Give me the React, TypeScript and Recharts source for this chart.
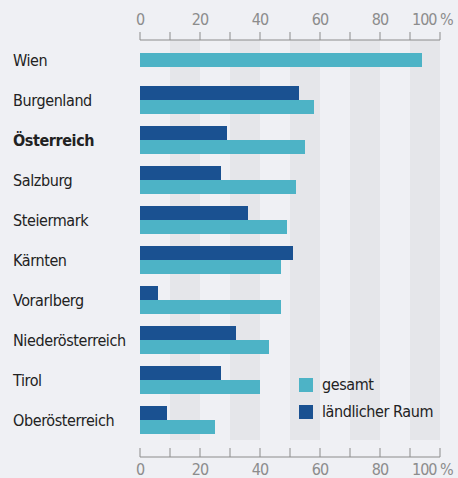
import { BarChart, Bar, XAxis, YAxis, ReferenceArea, Rectangle } from 'recharts'

// ── Data ──────────────────────────────────────────────────────────────────────

const REGIONS = [
  'Wien', 'Burgenland', 'Österreich', 'Salzburg', 'Steiermark',
  'Kärnten', 'Vorarlberg', 'Niederösterreich', 'Tirol', 'Oberösterreich',
]
const GESAMT = [94, 58, 55, 52, 49, 47, 47, 43, 40, 25]
const LAENDLICH: (number | null)[] = [null, 53, 29, 27, 36, 51, 6, 32, 27, 9]

const TICKS = [0, 10, 20, 30, 40, 50, 60, 70, 80, 90, 100]
const STRIPES: [number, number][] = [[10, 20], [30, 40], [50, 60], [70, 80], [90, 100]]

const data = REGIONS.map((name, i) => ({ name, gesamt: GESAMT[i], laendlich: LAENDLICH[i] }))

// ── Style ─────────────────────────────────────────────────────────────────────

const BG = '#eff0f4'
const STRIPE = '#e5e6ea'
const LIGHT = '#4db3c6'
const DARK = '#1a5191'
const AXIS = '#8c8c8c'
const FONT = '"DejaVu Sans Condensed", "DejaVu Sans", sans-serif'

function tickText(v: number) {
  if (v % 20 !== 0) return ''
  return v === 100 ? '100 %' : String(v)
}

function ValueTick({ x, y, payload, top }: any) {
  const v = payload.value as number
  const label = tickText(v)
  if (!label) return null
  return (
    <text
      x={v === 100 ? x - 28 : x}
      y={top ? y : y + 16}
      textAnchor={v === 100 ? 'start' : 'middle'}
      fontFamily={FONT}
      fontSize={16}
      letterSpacing={-1}
      fill={AXIS}
    >
      {label}
    </text>
  )
}

function RegionTick({ y, payload }: any) {
  return (
    <text
      x={13}
      y={y + 6}
      fontFamily={FONT}
      fontSize={16}
      letterSpacing={-0.4}
      fontWeight={payload.value === 'Österreich' ? 700 : 400}
      fill="#222"
    >
      {payload.value}
    </text>
  )
}

// Wien only has a "gesamt" value, so its bar sits centred in the row.
function GesamtShape(p: any) {
  const shift = p.payload.laendlich == null ? p.height / 2 : 0
  return <Rectangle {...p} y={p.y - shift} />
}

const LEGEND = [
  { label: 'gesamt', color: LIGHT },
  { label: 'ländlicher Raum', color: DARK },
]

export default function App() {
  return (
    <div style={{ position: 'fixed', left: 0, top: 0, width: 458, height: 478, background: BG }}>
      <BarChart
        width={458}
        height={478}
        data={data}
        layout="vertical"
        barSize={14}
        barGap={0}
        margin={{ top: 10, right: 18, left: 0, bottom: 0 }}
      >
        {STRIPES.map(([a, b]) => (
          <ReferenceArea key={a} x1={a} x2={b} xAxisId="bottom" fill={STRIPE} fillOpacity={1} stroke="none" />
        ))}
        <XAxis
          xAxisId="top"
          orientation="top"
          type="number"
          domain={[0, 100]}
          ticks={TICKS}
          interval={0}
          height={30}
          tickSize={8}
          tickMargin={7}
          axisLine={{ stroke: AXIS }}
          tickLine={{ stroke: AXIS }}
          tick={<ValueTick top />}
        />
        <XAxis
          xAxisId="bottom"
          orientation="bottom"
          type="number"
          domain={[0, 100]}
          ticks={TICKS}
          interval={0}
          height={30}
          tickSize={9}
          tickMargin={2}
          axisLine={{ stroke: AXIS, transform: 'translate(0,9)' }}
          tickLine={{ stroke: AXIS }}
          tick={<ValueTick />}
        />
        <YAxis
          type="category"
          dataKey="name"
          width={140}
          padding={{ top: 0, bottom: 8 }}
          axisLine={false}
          tickLine={false}
          interval={0}
          tick={<RegionTick />}
        />
        <Bar dataKey="laendlich" name="ländlicher Raum" xAxisId="bottom" fill={DARK} isAnimationActive={false} />
        <Bar dataKey="gesamt" name="gesamt" xAxisId="top" fill={LIGHT} shape={GesamtShape} isAnimationActive={false} />
      </BarChart>
      <div style={{ position: 'absolute', left: 299, top: 371, fontFamily: FONT, fontSize: 16, letterSpacing: -0.4, color: '#222' }}>
        {LEGEND.map((it) => (
          <div key={it.label} style={{ display: 'flex', alignItems: 'center', height: 27 }}>
            <span style={{ width: 14, height: 14, background: it.color, marginRight: 9, display: 'inline-block' }} />
            {it.label}
          </div>
        ))}
      </div>
    </div>
  )
}
